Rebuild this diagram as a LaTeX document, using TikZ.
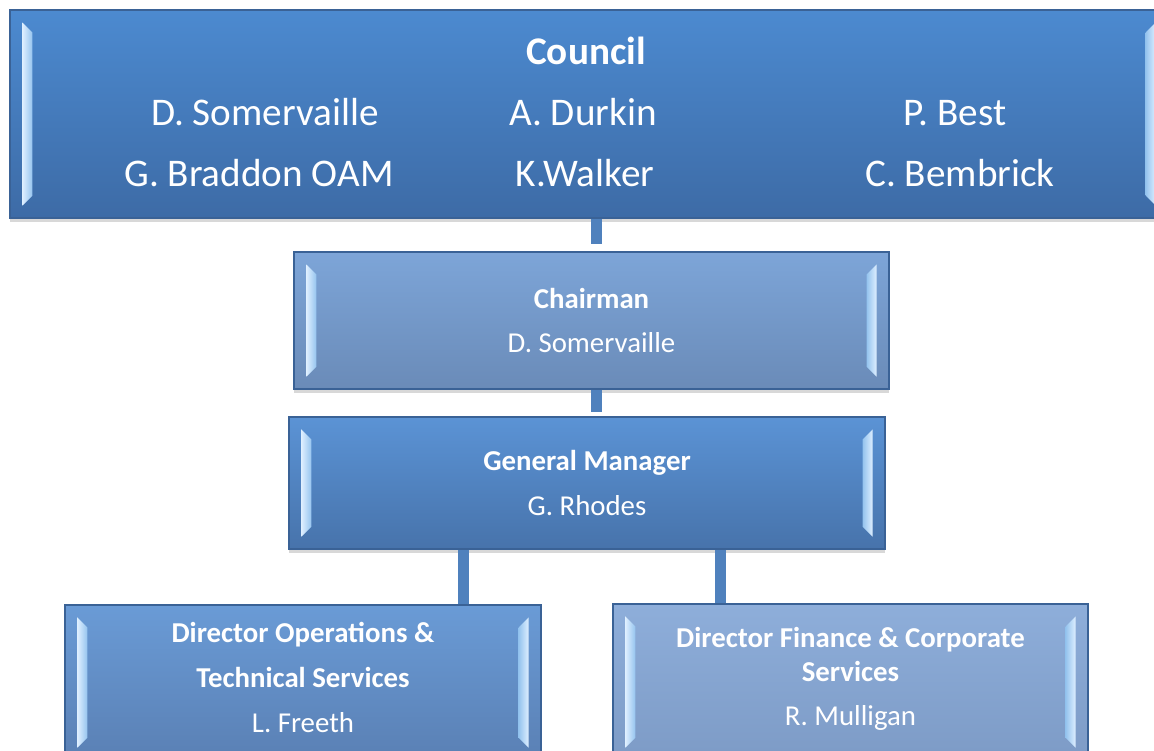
\documentclass[tikz,border=0pt]{standalone}
\usepackage{fontspec}
\setmainfont{Carlito}
\usetikzlibrary{shadows}
\usetikzlibrary{calc}

\definecolor{councilTop}{HTML}{4C8AD0}
\definecolor{councilBot}{HTML}{3D6BA6}
\definecolor{chairTop}{HTML}{7DA5D8}
\definecolor{chairBot}{HTML}{6A8BB8}
\definecolor{gmTop}{HTML}{5B93D5}
\definecolor{gmBot}{HTML}{4773AB}
\definecolor{opsTop}{HTML}{6A9BD6}
\definecolor{opsBot}{HTML}{5A80B4}
\definecolor{finTop}{HTML}{8EAEDA}
\definecolor{finBot}{HTML}{7D9BC6}
\definecolor{boxedge}{HTML}{3A6296}
\definecolor{linkblue}{HTML}{4F81BD}
\definecolor{bevelLight}{HTML}{DDEEFF}
\definecolor{bevelDark}{HTML}{94C3EE}

% one pixel of the sheet
\newcommand{\px}{0.02cm}

\tikzstyle{orgbox}=[
      rectangle,
      draw = boxedge,
      line width = 0.6pt,
      drop shadow = {shadow xshift=0pt, shadow yshift=-2.5pt, opacity=0.3},
      text = white,
      align = center,
      inner sep = 0pt,
      font = \fontsize{16.4}{19}\selectfont
      ]
\tikzstyle{councilbox}=[orgbox, top color=councilTop, bottom color=councilBot,
      minimum width=1158*\px, minimum height=208*\px]
\tikzstyle{chairbox}=[orgbox, top color=chairTop, bottom color=chairBot,
      minimum width=595*\px, minimum height=137*\px]
\tikzstyle{gmbox}=[orgbox, top color=gmTop, bottom color=gmBot,
      minimum width=596*\px, minimum height=132*\px]
\tikzstyle{opsbox}=[orgbox, top color=opsTop, bottom color=opsBot,
      minimum width=476*\px, minimum height=155*\px, text depth=6pt]
\tikzstyle{finbox}=[orgbox, top color=finTop, bottom color=finBot,
      minimum width=475*\px, minimum height=156*\px, text depth=6pt]
\tikzstyle{member}=[
      anchor = base,
      text = white,
      inner sep = 0pt,
      font = \fontsize{22.3}{26}\selectfont
      ]
\tikzstyle{link}=[draw=linkblue, line width=11*\px]

% light side strips of a box
\newcommand{\drawbevel}[1]{%
  \shade[left color=bevelLight, right color=bevelDark]
    ($(#1.north west)+(13,13)$) -- ($(#1.south west)+(13,-13)$)
    -- ($(#1.south west)+(23,-23)$) -- ($(#1.north west)+(23,23)$) -- cycle;
  \shade[left color=bevelDark, right color=bevelLight]
    ($(#1.north east)+(-13,13)$) -- ($(#1.south east)+(-13,-13)$)
    -- ($(#1.south east)+(-23,-23)$) -- ($(#1.north east)+(-23,23)$) -- cycle;
}

\begin{document}
\begin{tikzpicture}[x=\px, y=-\px]
\useasboundingbox[fill=white] (0,0) rectangle (1154,751);

% boxes
\node [councilbox] (council) at (589,114) {};
\node [chairbox] (chair) at (591.5,320.5)
  {\textbf{Chairman}\\[6.5pt]D. Somervaille};
\node [gmbox] (gm) at (587,483)
  {\textbf{General Manager}\\[6.5pt]G. Rhodes};
\node [opsbox] (dirops) at (303,682.5)
  {\textbf{Director Operations \&}\\[6.5pt]\textbf{Technical Services}\\[6.5pt]L. Freeth};
\node [finbox] (dirfin) at (850.5,682)
  {\textbf{Director Finance \& Corporate}\\\textbf{Services}\\[6.5pt]R. Mulligan};

\foreach \b in {council,chair,gm,dirops,dirfin}
  \drawbevel{\b};

% council members
\node [member] (ctitle) at (586,64) {\textbf{Council}};
\node [member] (somervaille) at (265,125) {D. Somervaille};
\node [member] (durkin) at (583,125) {A. Durkin};
\node [member] (best) at (955,125) {P. Best};
\node [member] (braddon) at (259,186) {G. Braddon OAM};
\node [member] (walker) at (585,186) {K.Walker};
\node [member] (bembrick) at (960,186) {C. Bembrick};

% connectors
\draw [link, shorten >=7*\px] ([xshift=7*\px]council.south) coordinate (chairjoin)
  -- (chairjoin |- chair.north);
\draw [link, shorten >=4*\px] ([xshift=4.5*\px]chair.south) coordinate (gmjoin)
  -- (gmjoin |- gm.north);
\draw [link] ([xshift=-124*\px]gm.south) coordinate (opsjoin) -- (opsjoin |- dirops.north);
\draw [link] ([xshift=133*\px]gm.south) coordinate (finjoin) -- (finjoin |- dirfin.north);
\end{tikzpicture}
\end{document}
